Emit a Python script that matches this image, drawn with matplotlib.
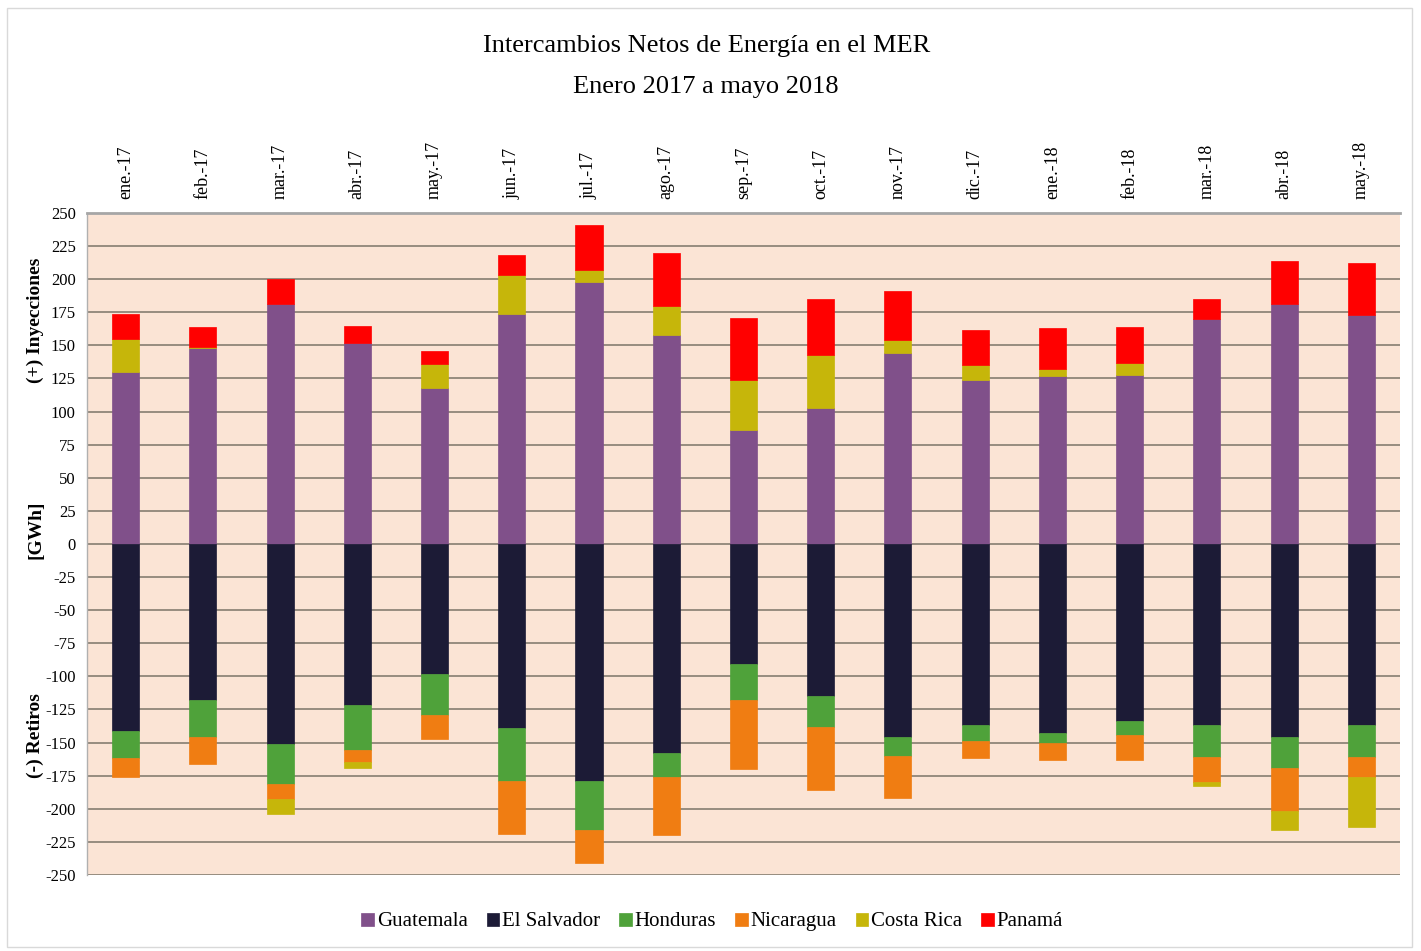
import matplotlib
matplotlib.use("Agg")
import matplotlib.pyplot as plt
import numpy as np
from matplotlib.patches import Rectangle

plt.rcParams["font.family"] = ["Liberation Serif", "DejaVu Serif"]
plt.rcParams["axes.unicode_minus"] = False

MONTHS = [
    "ene.-17", "feb.-17", "mar.-17", "abr.-17", "may.-17", "jun.-17",
    "jul.-17", "ago.-17", "sep.-17", "oct.-17", "nov.-17", "dic.-17",
    "ene.-18", "feb.-18", "mar.-18", "abr.-18", "may.-18",
]

# GWh, positive = injections, negative = withdrawals
guatemala = [130, 148, 181, 152, 118, 174, 198, 158, 86, 103, 144, 124, 127, 128, 170, 181, 173]
el_salvador = [-141, -118, -151, -122, -98, -139, -179, -158, -91, -115, -146, -137, -143, -134, -137, -146, -137]
honduras = [-21, -28, -30, -34, -31, -40, -37, -18, -27, -23, -14, -12, -7, -10, -24, -23, -24]
nicaragua = [-14, -20, -12, -9, -18, -40, -25, -44, -52, -48, -32, -13, -13, -19, -19, -33, -15]
costa_rica = [25, 1, -11, -4, 18, 29, 9, 22, 38, 40, 10, 11, 5, 9, -3, -14, -38]
panama = [19, 15, 19, 13, 10, 15, 34, 40, 47, 42, 37, 27, 31, 27, 15, 33, 39]

SERIES = [
    ("Guatemala", guatemala, "#80508a"),
    ("El Salvador", el_salvador, "#1c1b36"),
    ("Honduras", honduras, "#4fa23a"),
    ("Nicaragua", nicaragua, "#f07d12"),
    ("Costa Rica", costa_rica, "#c6b60a"),
    ("Panamá", panama, "#ff0000"),
]

fig = plt.figure(figsize=(14.21, 9.51), dpi=100)
ax = fig.add_axes([0.0612, 0.080, 0.924, 0.696])
ax.set_facecolor("#fbe4d5")

x = np.arange(len(MONTHS))
pos_bottom = np.zeros(len(MONTHS))
neg_bottom = np.zeros(len(MONTHS))
for name, vals, color in SERIES:
    v = np.array(vals, dtype=float)
    bottom = np.where(v >= 0, pos_bottom, neg_bottom)
    ax.bar(x, v, 0.35, bottom=bottom, color=color, label=name,
           edgecolor=color, linewidth=0.5, zorder=3)
    pos_bottom += np.where(v >= 0, v, 0)
    neg_bottom += np.where(v < 0, v, 0)

ax.set_xlim(-0.5, len(MONTHS) - 0.5)
ax.set_ylim(-250, 250)
ax.set_yticks(np.arange(-250, 251, 25))
ax.yaxis.grid(True, color="#8f8578", linewidth=1.3, zorder=1)
ax.set_axisbelow(True)

ax.xaxis.tick_top()
ax.set_xticks(x)
ax.set_xticklabels(MONTHS, rotation=90, fontsize=13)
ax.tick_params(axis="x", length=0, pad=10)
ax.tick_params(axis="y", length=0, pad=8, labelsize=12)

for side in ["right", "bottom"]:
    ax.spines[side].set_visible(False)
ax.spines["top"].set_color("#a6a6a6")
ax.spines["top"].set_linewidth(2)
ax.spines["left"].set_color("#b0b0b0")
ax.spines["left"].set_linewidth(1)

fig.text(0.497, 0.952, "Intercambios Netos de Energía en el MER", ha="center",
         va="center", fontsize=19)
fig.text(0.497, 0.908, "Enero 2017 a mayo 2018", ha="center", va="center",
         fontsize=19)

fig.text(0.025, 0.663, "(+) Inyecciones", rotation=90, ha="center", va="center",
         fontsize=14, fontweight="bold")
fig.text(0.025, 0.443, "[GWh]", rotation=90, ha="center", va="center",
         fontsize=14, fontweight="bold")
fig.text(0.025, 0.227, "(-) Retiros", rotation=90, ha="center", va="center",
         fontsize=14, fontweight="bold")

ax.legend(loc="center", bbox_to_anchor=(0.5012, 0.0305), bbox_transform=fig.transFigure,
          ncol=6, frameon=False, fontsize=15, handlelength=0.6, handleheight=0.6,
          handletextpad=0.15, columnspacing=0.9)

fig.patches.append(Rectangle((0.005, 0.004), 0.989, 0.988, transform=fig.transFigure,
                             fill=False, edgecolor="#d9d9d9", linewidth=1))

fig.savefig("out.png", dpi=100)
